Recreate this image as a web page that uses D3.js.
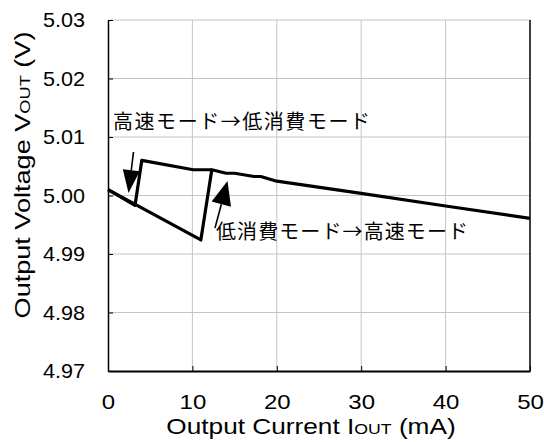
<!DOCTYPE html>
<html>
<head>
<meta charset="utf-8">
<script src="https://cdn.jsdelivr.net/npm/d3@7"></script>
<style>
  body { margin: 0; background: #fff; }
  svg { display: block; }
  text { font-family: Arial, "Liberation Sans", sans-serif; fill: #000; }
  .jp { font-family: "Noto Sans CJK JP", sans-serif; }
</style>
</head>
<body>
<svg id="chart" width="544" height="442"></svg>
<script>
//
// Data
//

// current rising: low-power mode, then switch to high-speed mode at ~11-12 mA
var riseCurrent = [0, 11, 12.3, 14, 15, 17.3, 18.1, 20, 30, 40, 50]
var riseVoltage = [5.001, 4.9924, 5.0044, 5.0038, 5.0038, 5.00325, 5.00325, 5.00245, 5.00035, 4.9982, 4.9961]

// current falling: high-speed mode, then switch to low-power mode at ~3-4 mA
var fallCurrent = [12.3, 10.1, 4.0, 3.2, 0]
var fallVoltage = [5.0044, 5.0044, 5.006, 4.9983, 5.001]

var xTicks = [0, 10, 20, 30, 40, 50]
var yTicks = [4.97, 4.98, 4.99, 5.00, 5.01, 5.02, 5.03]

var label1 = '高速モード→低消費モード'
var label2 = '低消費モード→高速モード'

//
// Layout
//

var svg = d3.select('#chart')
var plotLeft = 108, plotRight = 530, plotTop = 20, plotBottom = 371

var x = d3.scaleLinear().domain([0, 50]).range([plotLeft, plotRight])
var y = d3.scaleLinear().domain([4.97, 5.03]).range([plotBottom, plotTop])

// grid
svg.append('g')
  .selectAll('line')
  .data(yTicks.slice(1))
  .enter()
  .append('line')
  .attr('x1', plotLeft).attr('x2', plotRight)
  .attr('y1', d => y(d)).attr('y2', d => y(d))
  .attr('stroke', '#c4c4c4').attr('stroke-width', 1)

svg.append('g')
  .selectAll('line')
  .data(xTicks.slice(1, -1))
  .enter()
  .append('line')
  .attr('x1', d => x(d)).attr('x2', d => x(d))
  .attr('y1', plotTop).attr('y2', plotBottom)
  .attr('stroke', '#c4c4c4').attr('stroke-width', 1)

// right edge of frame
svg.append('line')
  .attr('x1', plotRight).attr('x2', plotRight)
  .attr('y1', plotTop).attr('y2', plotBottom)
  .attr('stroke', '#000').attr('stroke-width', 1.5)

// axes
var yAxis = d3.axisLeft(y).tickValues(yTicks).tickFormat(d3.format('.2f'))
  .tickSizeInner(-5).tickSizeOuter(0).tickPadding(23)
var gy = svg.append('g').attr('transform', `translate(${plotLeft},0)`).call(yAxis)
gy.select('.domain').attr('stroke-width', 1.5)
gy.selectAll('text')
  .attr('font-family', null)
  .style('font-size', '21px')
  .attr('textLength', 42).attr('lengthAdjust', 'spacingAndGlyphs')

var xAxis = d3.axisBottom(x).tickValues(xTicks)
  .tickSizeInner(-5).tickSizeOuter(0).tickPadding(24)
var gx = svg.append('g').attr('transform', `translate(0,${plotBottom})`).call(xAxis)
gx.select('.domain').attr('stroke-width', 2)
gx.selectAll('text')
  .attr('font-family', null)
  .style('font-size', '20px')
  .attr('transform', 'scale(1.2,1)')

// data lines
var line = d3.line().x(d => x(d[0])).y(d => y(d[1]))

svg.append('path')
  .datum(d3.zip(riseCurrent, riseVoltage))
  .attr('d', line)
  .attr('fill', 'none').attr('stroke', '#000').attr('stroke-width', 3.2)
  .attr('stroke-linejoin', 'round')

svg.append('path')
  .datum(d3.zip(fallCurrent, fallVoltage))
  .attr('d', line)
  .attr('fill', 'none').attr('stroke', '#000').attr('stroke-width', 3.2)
  .attr('stroke-linejoin', 'round')

// annotation arrows
function arrow(x1, y1, x2, y2, headLen, headWidth) {
  var dx = x2 - x1, dy = y2 - y1
  var len = Math.sqrt(dx * dx + dy * dy)
  var ux = dx / len, uy = dy / len
  var bx = x2 - ux * headLen, by = y2 - uy * headLen
  svg.append('line')
    .attr('x1', x1).attr('y1', y1).attr('x2', bx).attr('y2', by)
    .attr('stroke', '#000').attr('stroke-width', 1.6)
  svg.append('path')
    .attr('d', `M${x2},${y2}L${bx - uy * headWidth},${by + ux * headWidth}L${bx + uy * headWidth},${by - ux * headWidth}Z`)
    .attr('fill', '#000')
}
arrow(133.5, 152, 128.5, 193, 23, 8.5)
arrow(215, 228, 227.5, 181, 24, 10)

svg.append('text').attr('class', 'jp')
  .attr('x', 113).attr('y', 129)
  .style('font-size', '20px')
  .attr('textLength', 257)
  .text(label1)

svg.append('text').attr('class', 'jp')
  .attr('x', 216).attr('y', 239)
  .style('font-size', '20px')
  .attr('textLength', 252)
  .text(label2)

// axis titles
var xt = svg.append('text')
  .attr('transform', 'translate(311,434) scale(1.22,1)')
  .attr('text-anchor', 'middle')
  .style('font-size', '21.5px')
xt.append('tspan').text('Output Current I')
xt.append('tspan').style('font-size', '14.5px').text('OUT')
xt.append('tspan').text(' (mA)')

var yt = svg.append('text')
  .attr('transform', 'translate(30,175) rotate(-90) scale(1.26,1)')
  .attr('text-anchor', 'middle')
  .style('font-size', '21.5px')
yt.append('tspan').text('Output Voltage V')
yt.append('tspan').style('font-size', '14.5px').text('OUT')
yt.append('tspan').text(' (V)')
</script>
</body>
</html>
